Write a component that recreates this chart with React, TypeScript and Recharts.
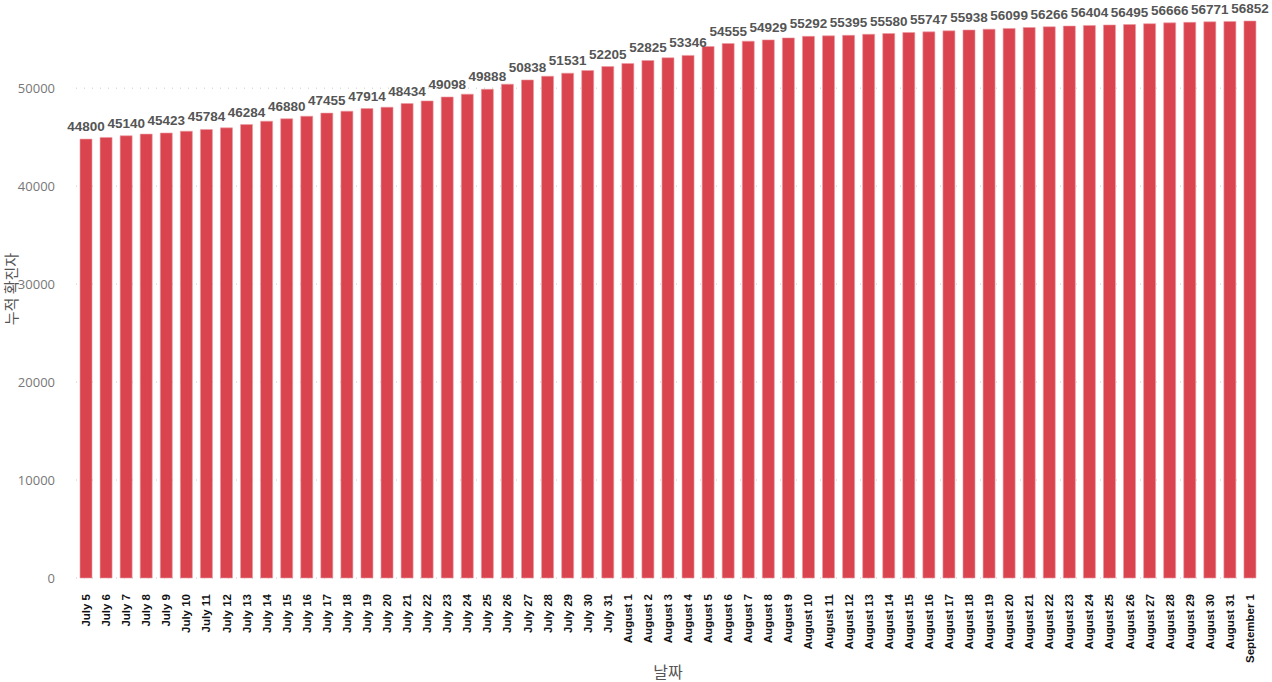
import { BarChart, Bar, XAxis, YAxis, CartesianGrid, LabelList, Label } from 'recharts';

const dates = [
  'July 5', 'July 6', 'July 7', 'July 8', 'July 9', 'July 10', 'July 11', 'July 12', 'July 13', 'July 14',
  'July 15', 'July 16', 'July 17', 'July 18', 'July 19', 'July 20', 'July 21', 'July 22', 'July 23', 'July 24',
  'July 25', 'July 26', 'July 27', 'July 28', 'July 29', 'July 30', 'July 31',
  'August 1', 'August 2', 'August 3', 'August 4', 'August 5', 'August 6', 'August 7', 'August 8', 'August 9',
  'August 10', 'August 11', 'August 12', 'August 13', 'August 14', 'August 15', 'August 16', 'August 17',
  'August 18', 'August 19', 'August 20', 'August 21', 'August 22', 'August 23', 'August 24', 'August 25',
  'August 26', 'August 27', 'August 28', 'August 29', 'August 30', 'August 31', 'September 1',
];

// cumulative confirmed cases
const totals = [
  44800, 44970, 45140, 45310, 45423, 45610, 45784, 45950, 46284, 46630,
  46880, 47140, 47455, 47650, 47914, 48060, 48434, 48700, 49098, 49390,
  49888, 50410, 50838, 51220, 51531, 51800, 52205,
  52520, 52825, 53100, 53346, 54250, 54555, 54800, 54929, 55130,
  55292, 55340, 55395, 55500, 55580, 55680, 55747, 55850,
  55938, 56020, 56099, 56190, 56266, 56340, 56404, 56450,
  56495, 56580, 56666, 56720, 56771, 56810, 56852,
];

const yTicks = [0, 10000, 20000, 30000, 40000, 50000];

// the original only shows every other data label (the rest overlap)
const data = dates.map((date, i) => ({
  date,
  total: totals[i],
  label: i % 2 === 0 ? totals[i] : null,
}));

const DateTick = ({ x, y, payload }: any) => (
  <text
    transform={`translate(${x + 4},${y + 8}) rotate(-90)`}
    textAnchor="end"
    fontSize={11.5}
    fontWeight="bold"
    fontFamily="'Liberation Sans', Arial, sans-serif"
    fill="#111"
  >
    {payload.value}
  </text>
);

export default function App() {
  return (
    <div style={{ position: 'absolute', left: 0, top: 0, background: '#fff' }}>
      <BarChart
        width={1272}
        height={682}
        data={data}
        margin={{ top: 0, right: 12, left: 0, bottom: 0 }}
        barCategoryGap="20%"
      >
        <CartesianGrid vertical={false} syncWithTicks stroke="#c8c8c8" strokeDasharray="1 7" />
        <XAxis
          dataKey="date"
          interval={0}
          tickLine={false}
          axisLine={false}
          height={104}
          tick={<DateTick />}
        >
          <Label
            value="날짜"
            position="insideBottom"
            offset={4}
            fontSize={16}
            fill="#555"
            fontFamily="'Noto Sans CJK KR', sans-serif"
          />
        </XAxis>
        <YAxis
          width={76}
          domain={[0, 59000]}
          ticks={yTicks}
          tickLine={false}
          axisLine={false}
          tickSize={0}
          tickMargin={21}
          tick={{ fontSize: 13, fill: '#777', fontFamily: "'Open Sans', sans-serif" }}
        >
          <Label
            content={({ viewBox }: any) => (
              <text
                transform={`translate(17,${viewBox.y + viewBox.height / 2}) rotate(-90)`}
                textAnchor="middle"
                fontSize={15}
                fill="#555"
                fontFamily="'Noto Sans CJK KR', sans-serif"
              >
                누적 확진자
              </text>
            )}
          />
        </YAxis>
        <Bar dataKey="total" fill="#d9444f" stroke="#ec9aa2" strokeWidth={0.6} isAnimationActive={false}>
          <LabelList
            dataKey="label"
            position="top"
            offset={8}
            fill="#555"
            fontSize={13.5}
            fontWeight="bold"
            fontFamily="'Liberation Sans', Arial, sans-serif"
          />
        </Bar>
      </BarChart>
    </div>
  );
}
